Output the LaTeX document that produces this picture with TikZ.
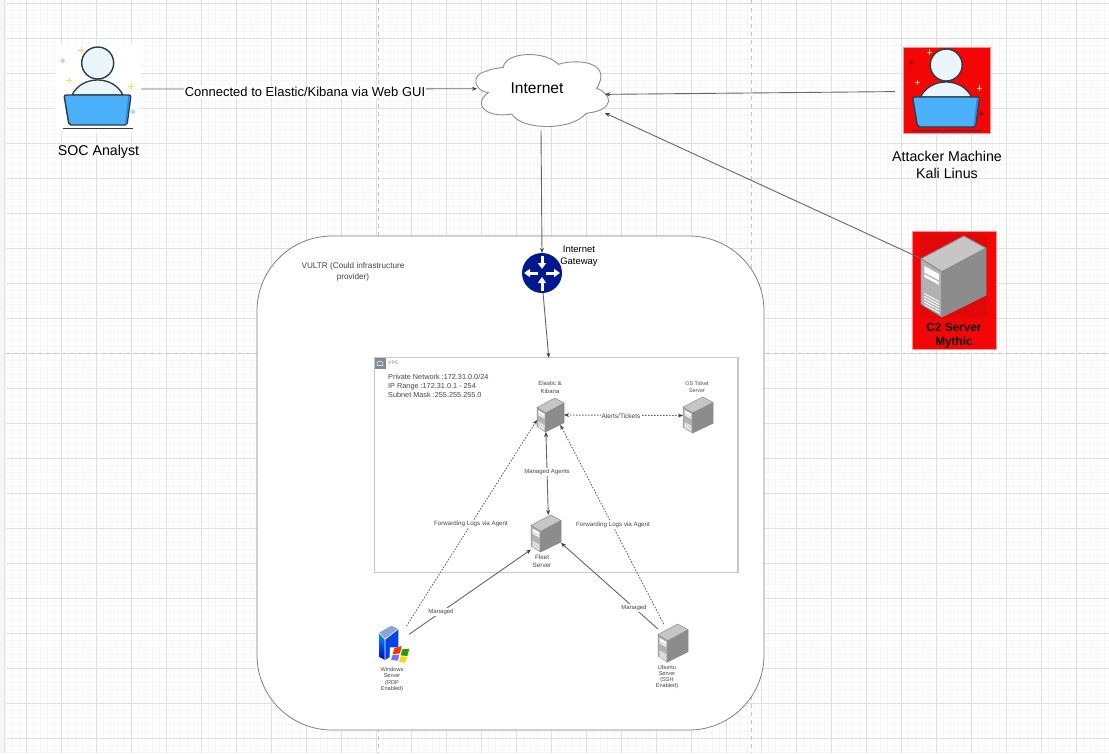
\documentclass[tikz,border=0pt]{standalone}
\usepackage{fontspec}
\setmainfont{Liberation Sans}
\usetikzlibrary{arrows.meta,calc}
\definecolor{gridminor}{HTML}{F6F6F6}
\definecolor{gridmajor}{HTML}{E0E0E0}
\definecolor{pagedash}{HTML}{C4C4C4}
\definecolor{inkdark}{HTML}{2E3A44}
\definecolor{headfill}{HTML}{EAF6FC}
\definecolor{lapblue}{HTML}{4AB0FA}
\definecolor{lapedge}{HTML}{2A86E6}
\definecolor{spark}{HTML}{FFD94F}
\definecolor{attackred}{HTML}{F50606}
\definecolor{attackdark}{HTML}{E00808}
\definecolor{attackedge}{HTML}{F99090}
\definecolor{connink}{HTML}{666666}
\definecolor{smalltext}{HTML}{454545}
\definecolor{vpcedge}{HTML}{C8C8C8}
\definecolor{vpcgray}{HTML}{7F8C95}
\definecolor{routerblue}{HTML}{00188F}
\definecolor{srvtop}{HTML}{C6C6C6}
\definecolor{srvleft}{HTML}{B2B2B2}
\definecolor{srvright}{HTML}{8C8C8C}
\definecolor{srvline}{HTML}{8A8A8A}
\newcommand{\fs}[2]{\fontsize{#1}{#2}\selectfont}
\tikzset{
  x=1pt,y=-1pt,
  conn/.style={draw=connink,line width=.9pt,-{Stealth[length=5pt,width=4pt,black!75]}},
  connboth/.style={draw=connink,line width=.9pt,{Stealth[length=5pt,width=4pt,black!75]}-{Stealth[length=5pt,width=4pt,black!75]}},
  dots/.style={dash pattern=on 1.5pt off 1.5pt},
  txt/.style={inner sep=0pt,align=center,text=black},
  tiny/.style={inner sep=0pt,align=center,text=smalltext},
  onwire/.style={inner sep=1pt,align=center,text=smalltext,fill=white},
  redbox/.style={fill=attackred,draw=attackedge,line width=.8pt,inner sep=0pt,outer sep=0pt},
}
% person behind a laptop; origin = top-left of its square
\newcommand{\analystart}[3]{%
\begin{scope}[shift={(#1,#2)}]
  \foreach \sx/\sy in {26/5,14/35.7,76/41}{
    \draw[spark,line width=1pt] (\sx-2.6,\sy)--(\sx+2.6,\sy) (\sx,\sy-2.6)--(\sx,\sy+2.6);}
  \draw[#3,line width=1pt] (7.7,15.7) circle (1.6);
  \draw[#3,line width=1pt] (78,66.7) circle (1.6);
  \draw[inkdark,line width=1.3pt,fill=headfill] (17,50) .. controls (22,40) and (32,35) .. (42.7,35) .. controls (53,35) and (63,40) .. (68,50) -- cycle;
  \draw[inkdark,line width=1.4pt,fill=headfill] (42.7,18) circle (16);
  \draw[inkdark,line width=1.4pt,fill=lapblue,rounded corners=2pt] (9,50) -- (76,50) -- (72,80) -- (14,80) -- cycle;
  \fill[lapedge] (73.3,51) -- (75.2,51) -- (71.5,79) -- (70,79) -- cycle;
  \draw[inkdark,line width=1.3pt] (8,83.5) -- (78,83.5);
\end{scope}}
% grey isometric server; x y width height
\newcommand{\serverart}[5][.5pt]{%
\begin{scope}[shift={(#2,#3)},x=#4pt,y=-#5pt]
  \draw[srvline,line width=#1,fill=srvleft,line join=round] (0,.28) -- (.32,.44) -- (.32,1) -- (0,.84) -- cycle;
  \draw[srvline,line width=#1,fill=srvright,line join=round] (.32,.44) -- (1,.15) -- (1,.73) -- (.32,1) -- cycle;
  \draw[srvline,line width=#1,fill=srvtop,line join=round] (0,.28) -- (.66,0) -- (1,.15) -- (.32,.44) -- cycle;
  \fill[white] (.05,.37) -- (.28,.47) -- (.28,.55) -- (.05,.45) -- cycle;
  \fill[white] (.05,.47) -- (.28,.57) -- (.28,.605) -- (.05,.505) -- cycle;
  \foreach \vy in {.71,.745,.78,.815,.85}{
    \draw[white,line width=#1] (.05,\vy) -- (.28,\vy+.1);}
\end{scope}}
\begin{document}
\begin{tikzpicture}
\useasboundingbox (0,0) rectangle (1109,753);
\fill[white] (0,0) rectangle (1109,753);
% editor grid
\foreach \k in {0,...,157}{\draw[gridminor,line width=1pt] (5.5+7*\k,0) -- (5.5+7*\k,753);}
\foreach \k in {0,...,107}{\draw[gridminor,line width=1pt] (6,3.5+7*\k) -- (1109,3.5+7*\k);}
\foreach \k in {0,...,30}{\draw[gridmajor,line width=1pt] (26.5+35*\k,0) -- (26.5+35*\k,753);}
\foreach \k in {0,...,21}{\draw[gridmajor,line width=1pt] (6,3.5+35*\k) -- (1109,3.5+35*\k);}
\draw[pagedash,line width=1pt,dash pattern=on 4pt off 4pt] (378.5,0) -- (378.5,753);
\draw[pagedash,line width=1pt,dash pattern=on 4pt off 4pt] (751.5,0) -- (751.5,753);
\draw[pagedash,line width=1pt,dash pattern=on 4pt off 4pt] (6,353.5) -- (1109,353.5);
\fill[gridminor] (0,0) rectangle (5,753);
\draw[gridmajor,line width=1pt] (4.5,0) -- (4.5,753);

% cloud provider
\node[draw=black!50,fill=white,line width=.8pt,rounded corners=75pt,minimum width=507pt,minimum height=494pt,inner sep=0pt,outer sep=0pt] (vultr) at (510.5,483) {};
\node[tiny,font=\fs{8.2}{11}] (vultrlabel) at (353,271.5) {VULTR (Could infrastructure\\provider)};

% VPC
\node[draw=vpcedge,line width=1.2pt,minimum width=363.5pt,minimum height=214.5pt,inner sep=0pt,outer sep=0pt] (vpc) at (556.25,465) {};
\node[fill=vpcgray,minimum size=11pt,inner sep=0pt] (vpcicon) at (380,363) {};
\draw[white,line width=.5pt] (377,365.5) -- (383,365.5) .. controls (384.5,363) and (382,361) .. (380,361) .. controls (378,361) and (375.5,363) .. (377,365.5);
\node[inner sep=0pt,anchor=west,text=vpcgray,font=\fs{5}{6}] (vpclabel) at (388,363) {VPC};
\node[tiny,anchor=north west,align=left,font=\fs{7.3}{9}] (netinfo) at (388,374) {Private Network :172.31.0.0/24\\IP Range :172.31.0.1 - 254\\Subnet Mask :255.255.255.0};

% internet cloud
\begin{scope}[shift={(460,50)},x=.33333pt,y=-.33333pt]
  \draw[fill=white,draw=black!45,line width=.9pt]
    (85,128) .. controls (45,125) and (30,75) .. (75,65)
    .. controls (95,55) and (115,55) .. (130,52)
    .. controls (135,5) and (255,0) .. (295,43)
    .. controls (350,25) and (460,35) .. (410,115)
    .. controls (455,130) and (470,180) .. (378,190)
    .. controls (340,240) and (190,245) .. (155,192)
    .. controls (80,205) and (35,165) .. (85,128) -- cycle;
\end{scope}
\node[inner sep=0pt,outer sep=0pt,minimum width=128pt,minimum height=78pt] (internet) at (541,91) {};
\node[txt,font=\fs{15.6}{18}] (internetlabel) at (537,88.3) {Internet};

% SOC analyst
\node[fill=white,inner sep=0pt,outer sep=0pt,minimum width=86pt,minimum height=88pt] (soc) at (98,89) {};
\analystart{55}{45}{lapblue!60}
\node[txt,font=\fs{14.2}{17}] (soclabel) at (98.5,152) {SOC Analyst};

% attacker
\node[redbox,minimum width=87pt,minimum height=86pt] (attacker) at (946.5,90) {};
\analystart{903.5}{47}{black!40!attackred}
\node[txt,font=\fs{14.2}{17}] (attackerlabel) at (947,164.5) {Attacker Machine\\Kali Linus};

% C2
\node[redbox,minimum width=84pt,minimum height=118pt] (c2box) at (954,290) {};
\fill[attackdark] (920,234) rectangle (987,318);
\node[inner sep=0pt,outer sep=0pt,minimum width=65pt,minimum height=81pt] (c2) at (953.5,276.5) {};
\serverart[.9pt]{921}{236}{65}{81}
\node[txt,font=\fs{11.8}{14}\bfseries] (c2label) at (954,335.5) {C2 Server\\Mythic};

% gateway
\node[circle,fill=routerblue,minimum size=40pt,inner sep=0pt,outer sep=0pt] (gw) at (542,273) {};
\begin{scope}[white,line width=3pt]
  \draw[-{Triangle[length=6pt,width=8pt]}] (542,255.5) -- (542,269);
  \draw[-{Triangle[length=6pt,width=8pt]}] (542,290.5) -- (542,277);
  \draw[-{Triangle[length=6pt,width=8pt]}] (538,273) -- (524,273);
  \draw[-{Triangle[length=6pt,width=8pt]}] (546,273) -- (560,273);
\end{scope}
\node[txt,font=\fs{9.5}{12}] (gwlabel) at (579,256.5) {Internet\\Gateway};

% servers
\node[inner sep=0pt,outer sep=0pt,minimum width=27pt,minimum height=34pt] (elastic) at (550.5,415) {};
\serverart{537}{398}{27}{34}
\node[tiny,font=\fs{6}{8}] (elasticlabel) at (550,387) {Elastic \&\\Kibana};
\node[inner sep=0pt,outer sep=0pt,minimum width=30pt,minimum height=36pt] (osticket) at (698,415.5) {};
\serverart{683}{397}{30}{36}
\node[tiny,font=\fs{5.3}{6.5}] (osticketlabel) at (697,387) {OS Ticket\\Server};
\node[inner sep=0pt,outer sep=0pt,minimum width=30pt,minimum height=37pt] (fleet) at (546,533.5) {};
\serverart{531}{515}{30}{37}
\node[tiny,font=\fs{6.3}{7.5}] (fleetlabel) at (542,561) {Fleet\\Server};
\node[inner sep=0pt,outer sep=0pt,minimum width=30pt,minimum height=38pt] (ubuntu) at (673,643) {};
\serverart{658}{624}{30}{38}
\node[tiny,font=\fs{5.6}{6.3}] (ubuntulabel) at (667,677) {Ubuntu\\Server\\(SSH\\Enabled)};

% windows server
\node[inner sep=0pt,outer sep=0pt,minimum width=30pt,minimum height=37pt] (windows) at (394,644.5) {};
\begin{scope}[shift={(350,590)},x=.33333pt,y=-.33333pt]
  \fill[blue!70!cyan!90!black] (105,148) -- (145,117) -- (145,185) -- (105,210) -- cycle;
  \shade[bottom color=blue!75!black,top color=cyan!60!blue] (87,128) -- (105,148) -- (105,210) -- (87,200) -- cycle;
  \fill[cyan!35!blue!45!white] (87,128) -- (125,107) -- (145,117) -- (105,148) -- cycle;
  \draw[white,line width=.6pt] (87,128) -- (105,148) -- (105,210) (105,148) -- (145,117);
  \fill[white] (120,172) -- (180,172) -- (178,222) -- (118,218) -- cycle;
  \fill[red!60!orange] (133,175) -- (155,168) -- (150,190) -- (128,193) -- cycle;
  \fill[green!55!black!85!yellow] (157,178) -- (178,176) -- (172,198) -- (152,196) -- cycle;
  \fill[blue!55!white] (128,195) -- (148,194) -- (144,212) -- (123,210) -- cycle;
  \fill[yellow!75!orange] (152,199) -- (172,200) -- (165,218) -- (147,216) -- cycle;
\end{scope}
\node[tiny,font=\fs{5.6}{6.3}] (windowslabel) at (392,679.5) {Windows\\Server\\(RDP\\Enabled)};

% connectors
\draw[conn] (soc.east) -- (internet.178.2);
\draw[conn,shorten <=8pt] (attacker.182.6) -- (internet.-3.5);
\draw[conn] (c2.151.7) -- (internet.-19.4);
\draw[conn] (internet.south) -- (gw.north);
\draw[conn] (gw.-87) -- (vpc.94.3);
\draw[connboth,dots] (elastic.east) -- (osticket.west);
\draw[connboth] (elastic.255.6) -- (fleet.83);
\draw[conn,dots] (windows.56.3) -- (elastic.200);
\draw[conn,dots,shorten >=-8pt] (ubuntu.116.6) -- (elastic.south east);
\draw[conn] (windows.34) -- (fleet.227.7);
\draw[conn] (ubuntu.137) -- (fleet.-32.3);

% connector labels
\node[txt,fill=white,inner sep=1pt,font=\fs{13}{15}] (weblabel) at (305,92) {Connected to Elastic/Kibana via Web GUI};
\node[onwire,font=\fs{6.5}{8}] (alertslabel) at (621,416) {Alerts/Tickets};
\node[onwire,font=\fs{6}{8}] (agentslabel) at (547,472) {Managed Agents};
\node[onwire,font=\fs{6.2}{8}] (fwdleft) at (471,524) {Forwarding Logs via Agent};
\node[onwire,font=\fs{6.2}{8}] (fwdright) at (613,525) {Forwarding Logs via Agent};
\node[onwire,font=\fs{6}{8}] (manleft) at (441,612) {Managed};
\node[onwire,font=\fs{6}{8}] (manright) at (634,608) {Managed};
\end{tikzpicture}
\end{document}
